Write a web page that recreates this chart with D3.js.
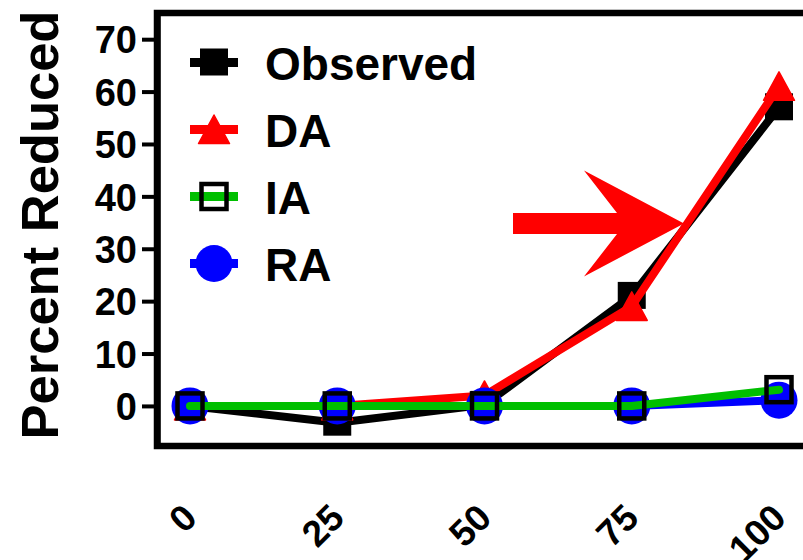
<!DOCTYPE html>
<html>
<head>
<meta charset="utf-8">
<script src="https://cdn.jsdelivr.net/npm/d3@7"></script>
<style>
  html, body { margin: 0; padding: 0; background: #fff; }
  svg { display: block; font-family: "Liberation Sans", Arial, Helvetica, sans-serif; font-weight: bold; }
</style>
</head>
<body>
<svg id="chart" width="803" height="560"></svg>
<script>
// Dose levels (x categories) and percent reduction per model
const doseLabels = ["0", "25", "50", "75", "100"];
const doses = [0, 25, 50, 75, 100];
const observed = [0, -3.2, 0.2, 21, 57];
const daValues = [0, 0, 2, 19, 61];
const iaValues = [0, 0, 0, 0, 3.1];
const raValues = [0, 0, 0, 0, 1.1];
const yTickValues = [0, 10, 20, 30, 40, 50, 60, 70];
const seriesNames = ["Observed", "DA", "IA", "RA"];

const svg = d3.select("#chart");

const x = d3.scaleLinear().domain([0, 100]).range([190, 779]);
const y = d3.scaleLinear().domain([-7.65, 75]).range([446, 13]);

const RED = "#ff0000", GREEN = "#00bf00", BLUE = "#0000ff", BLACK = "#000000";

// Marker painters, centred on (0,0)
const markers = {
  square: g => g.append("rect").attr("x", -14).attr("y", -14).attr("width", 28).attr("height", 27).attr("fill", BLACK),
  triangle: g => g.append("path").attr("d", "M0,-14.5L15.5,14L-15.5,14Z").attr("fill", RED)
    .attr("stroke", RED).attr("stroke-width", 1.5).attr("stroke-linejoin", "round"),
  open: g => g.append("rect").attr("x", -12.5).attr("y", -12.5).attr("width", 25).attr("height", 25)
    .attr("fill", "none").attr("stroke", BLACK).attr("stroke-width", 4.5),
  circle: g => g.append("circle").attr("r", 18.5).attr("fill", BLUE)
};

// Drawing order: bottom to top
const series = [
  { name: seriesNames[0], values: observed, color: BLACK, marker: "square" },
  { name: seriesNames[1], values: daValues, color: RED, marker: "triangle" },
  { name: seriesNames[3], values: raValues, color: BLUE, marker: "circle" },
  { name: seriesNames[2], values: iaValues, color: GREEN, marker: "open" }
];

// Plot frame (right edge falls outside the view)
const frame = svg.append("g");
frame.append("rect")
  .attr("x", x.range()[0] - 33).attr("y", y.range()[1])
  .attr("width", 700).attr("height", y.range()[0] - y.range()[1])
  .attr("fill", "none").attr("stroke", BLACK).attr("stroke-width", 6.5);

// Y axis
const yAxis = svg.append("g")
  .attr("transform", `translate(${x.range()[0] - 33},0)`)
  .call(d3.axisLeft(y).tickValues(yTickValues).tickSize(15).tickPadding(5).tickSizeOuter(0));
yAxis.select(".domain").attr("stroke", BLACK).attr("stroke-width", 6.5);
yAxis.selectAll(".tick line").attr("stroke", BLACK).attr("stroke-width", 4);
yAxis.selectAll(".tick text")
  .attr("fill", BLACK).attr("font-size", 38).attr("font-weight", "bold")
  .attr("font-family", "'Liberation Sans', Arial, sans-serif").attr("dy", "0.36em");

// Y axis title
svg.append("text")
  .attr("transform", "translate(58,225) rotate(-90)")
  .attr("text-anchor", "middle")
  .attr("font-size", 52.5)
  .attr("fill", BLACK)
  .text("Percent Reduced");

// X tick labels, rotated
svg.append("g").selectAll("text")
  .data(doses)
  .join("text")
  .attr("transform", (d) => `translate(${x(d) + 9},520) rotate(-45)`)
  .attr("text-anchor", "end")
  .attr("font-size", 37)
  .attr("fill", BLACK)
  .text((d, i) => doseLabels[i]);

// Series lines and markers
const line = d3.line().x((d, i) => x(doses[i])).y(d => y(d));
series.forEach(s => {
  const g = svg.append("g");
  g.append("path")
    .attr("d", line(s.values))
    .attr("fill", "none")
    .attr("stroke", s.color)
    .attr("stroke-width", 8)
    .attr("stroke-linejoin", "round")
    .attr("stroke-linecap", "round");
  s.values.forEach((v, i) => {
    const m = g.append("g").attr("transform", `translate(${x(doses[i])},${y(v)})`);
    markers[s.marker](m);
  });
});

// Legend
const legendSeries = [
  { name: seriesNames[0], color: BLACK, marker: "square" },
  { name: seriesNames[1], color: RED, marker: "triangle" },
  { name: seriesNames[2], color: GREEN, marker: "open" },
  { name: seriesNames[3], color: BLUE, marker: "circle" }
];
const legend = svg.append("g").attr("transform", "translate(214,62.5)");
legendSeries.forEach((s, i) => {
  const row = legend.append("g").attr("transform", `translate(0,${i * 67})`);
  row.append("line").attr("x1", -24).attr("x2", 24).attr("y1", 0).attr("y2", 0)
    .attr("stroke", s.color).attr("stroke-width", 9);
  markers[s.marker](row);
  row.append("text").attr("x", 51).attr("y", 17.5)
    .attr("font-size", 46).attr("fill", BLACK).text(s.name);
});

// Arrow pointing at the crossing of the Observed and DA curves
const tipX = 684, tipY = 223.5;
const arrow = [[-171, -10.5], [-67, -10.5], [-100, -53], [0, 0], [-100, 53], [-67, 10.5], [-171, 10.5]];
svg.append("path")
  .attr("d", d3.line()(arrow.map(p => [tipX + p[0], tipY + p[1]])) + "Z")
  .attr("fill", RED);
</script>
</body>
</html>
